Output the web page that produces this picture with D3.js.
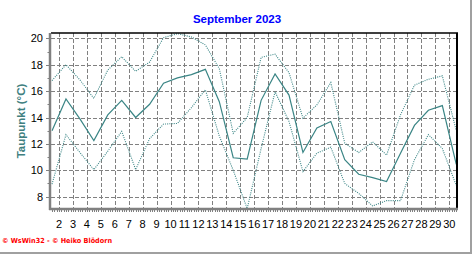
<!DOCTYPE html>
<html>
<head>
<meta charset="utf-8">
<script src="https://cdn.jsdelivr.net/npm/d3@7"></script>
<style>
  body { margin: 0; background: #fff; }
  svg { display: block; font-family: Arial, "Liberation Sans", sans-serif; }
</style>
</head>
<body>
<div class="chart"></div>
<script>
// daily dew point values, September 2023
const days = [1,2,3,4,5,6,7,8,9,10,11,12,13,14,15,16,17,18,19,20,21,22,23,24,25,26,27,28,29,30];
const dewAvg = [13.0,15.4,13.9,12.25,14.2,15.3,14.0,15.0,16.6,17.0,17.25,17.65,15.2,10.95,10.85,15.3,17.3,15.7,11.35,13.2,13.7,10.8,9.7,9.45,9.15,11.3,13.4,14.55,14.9,10.45];
const dewMax = [16.8,18.0,16.85,15.45,17.6,18.6,17.5,18.2,20.05,20.35,20.1,19.5,17.7,12.8,14.0,18.55,18.8,17.4,13.95,14.95,16.65,12.05,11.35,12.15,11.15,14.2,16.45,16.9,17.15,13.0];
const dewMin = [8.95,12.7,11.35,10.05,11.45,12.95,10.05,12.4,13.5,13.55,14.75,16.1,12.6,10.0,7.1,11.65,15.95,13.7,9.9,11.3,11.75,9.0,8.25,7.3,7.7,7.7,10.8,12.7,11.65,8.85];
const xTicks = [2,3,4,5,6,7,8,9,10,11,12,13,14,15,16,17,18,19,20,21,22,23,24,25,26,27,28,29,30];
const yTicks = [8,10,12,14,16,18,20];

const W = 472, H = 255;
const plot = { left: 51, right: 457, top: 33, bottom: 209 };

const svg = d3.select(".chart").append("svg")
    .attr("width", W).attr("height", H);

const x = d3.scaleLinear().domain([2, 30]).range([59, 449.3]);
const y = d3.scaleLinear().domain([8, 20]).range([196.7, 38.3]);

// outer frame (right + bottom)
svg.append("line").attr("x1", 471).attr("x2", 471).attr("y1", 0).attr("y2", 254)
    .attr("stroke", "#a0a0a0").attr("stroke-width", 2);
svg.append("line").attr("x1", 0).attr("x2", 472).attr("y1", 253).attr("y2", 253)
    .attr("stroke", "#a0a0a0").attr("stroke-width", 2);

svg.append("defs").append("clipPath").attr("id", "clip")
    .append("rect")
    .attr("x", plot.left).attr("y", plot.top)
    .attr("width", plot.right - plot.left).attr("height", plot.bottom - plot.top);

// grid
const grid = svg.append("g").attr("stroke", "#808080").attr("stroke-dasharray", "4,2");
grid.selectAll(".hg").data(yTicks).join("line")
    .attr("x1", plot.left).attr("x2", plot.right)
    .attr("y1", d => Math.round(y(d)) + 0.5).attr("y2", d => Math.round(y(d)) + 0.5);
grid.selectAll(".vg").data(xTicks).join("line")
    .attr("y1", plot.top).attr("y2", plot.bottom)
    .attr("x1", d => Math.round(x(d)) + 0.5).attr("x2", d => Math.round(x(d)) + 0.5);

// series lines, daily values drawn at noon
const line = arr => d3.line()
    .x((d, i) => x(days[i] + 0.5))
    .y(d => y(d))(arr);

const lines = svg.append("g").attr("clip-path", "url(#clip)")
    .attr("fill", "none").attr("stroke", "#3a8585").attr("stroke-width", 1);
lines.append("path").attr("d", line(dewMax)).attr("stroke-dasharray", "1,1.2").attr("stroke-width", 1.1);
lines.append("path").attr("d", line(dewMin)).attr("stroke-dasharray", "1,1.2").attr("stroke-width", 1.1);
lines.append("path").attr("d", line(dewAvg)).attr("stroke-width", 1.2);

// frame: black top/right, gray thick left/bottom
svg.append("line").attr("x1", plot.left).attr("x2", plot.right + 1)
    .attr("y1", plot.top).attr("y2", plot.top).attr("stroke", "#000").attr("stroke-width", 1.5);
svg.append("line").attr("x1", plot.right).attr("x2", plot.right)
    .attr("y1", plot.top).attr("y2", plot.bottom).attr("stroke", "#000").attr("stroke-width", 2);
svg.append("line").attr("x1", plot.left - 1).attr("x2", plot.left - 1)
    .attr("y1", plot.top).attr("y2", plot.bottom + 1).attr("stroke", "#808080").attr("stroke-width", 2.5);
svg.append("line").attr("x1", plot.left - 2).attr("x2", plot.right + 1)
    .attr("y1", plot.bottom).attr("y2", plot.bottom).attr("stroke", "#808080").attr("stroke-width", 2.5);

// y axis ticks + labels
const yMinor = d3.range(8, 21, 1);
svg.append("g").selectAll("line").data(yMinor).join("line")
    .attr("x1", d => d % 2 === 0 ? 46 : 47.5).attr("x2", plot.left - 2)
    .attr("y1", d => Math.round(y(d)) + 0.5).attr("y2", d => Math.round(y(d)) + 0.5)
    .attr("stroke", "#808080");
svg.append("g").selectAll("text").data(yTicks).join("text")
    .attr("x", 43).attr("y", d => y(d) + 4)
    .attr("text-anchor", "end").attr("font-size", 11).attr("fill", "#000")
    .text(d => d);

// x axis minor ticks (every 4h) + labels
const xMinor = d3.range(1.5, 30.51, 1 / 6).filter(v => x(v) > plot.left && x(v) < plot.right);
svg.append("g").selectAll("line").data(xMinor).join("line")
    .attr("x1", d => Math.round(x(d)) + 0.5).attr("x2", d => Math.round(x(d)) + 0.5)
    .attr("y1", plot.bottom + 1).attr("y2", plot.bottom + 3)
    .attr("stroke", "#808080");
svg.append("g").selectAll("text").data(xTicks).join("text")
    .attr("x", d => x(d)).attr("y", 228)
    .attr("text-anchor", "middle").attr("font-size", 11).attr("fill", "#000")
    .text(d => d);

// title
svg.append("text").attr("x", 237).attr("y", 23)
    .attr("text-anchor", "middle").attr("font-size", 11.5).attr("font-weight", "bold")
    .attr("fill", "#0000ff").text("September 2023");

// y label
svg.append("text").attr("transform", "translate(25,121) rotate(-90)")
    .attr("text-anchor", "middle").attr("font-size", 11.5).attr("font-weight", "bold")
    .attr("fill", "#408080").text("Taupunkt  (°C)");

// credit
svg.append("text").attr("x", 2).attr("y", 243)
    .attr("font-size", 7).attr("font-weight", "bold").attr("fill", "#ff0000")
    .attr("font-family", "'DejaVu Sans', sans-serif")
    .attr("textLength", 110).attr("lengthAdjust", "spacingAndGlyphs")
    .text("© WsWin32  -  © Heiko Blödorn");
</script>
</body>
</html>
